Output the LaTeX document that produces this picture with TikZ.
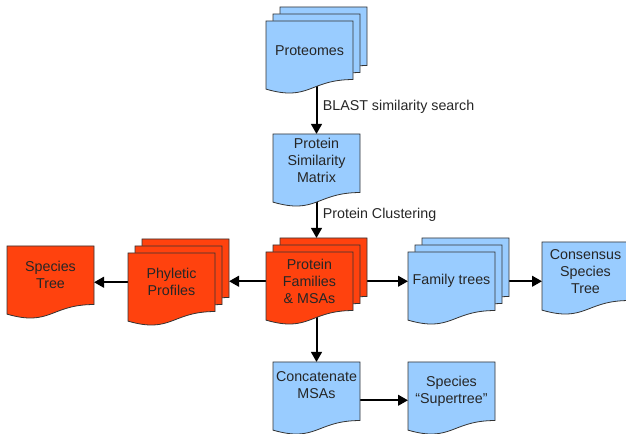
\documentclass[tikz,border=0pt]{standalone}
\usepackage{fontspec}
\setmainfont{Liberation Sans}
\usetikzlibrary{calc,arrows.meta}
\definecolor{docblue}{HTML}{99CCFF}
\definecolor{docred}{HTML}{FF420E}
\pgfdeclarelayer{arrows}
\pgfdeclarelayer{sheets}
\pgfsetlayers{arrows,sheets,main}
\tikzset{
  doc/.style={anchor=north west, minimum width=65.25pt, minimum height=43.9pt,
    inner sep=1pt, outer sep=0pt, align=center, font=\fontsize{10.7}{12.8}\selectfont, text=black!85},
  sheet/.style={draw=black!80, line width=0.6pt},
  arr/.style={line width=1.5pt, -{Triangle[length=7.5pt,width=8pt]}},
  lbl/.style={font=\fontsize{10.7}{12.8}\selectfont, text=black!85, right, inner sep=4pt}
}

\begin{document}
\begin{tikzpicture}[x=0.75pt,y=-0.75pt]
\useasboundingbox (0,0) rectangle (626,434);
\node[doc] (prot3) at (280,7) {};
\node[doc] (prot2) at (273,14) {};
\node[doc] (prot) at (266,21) {Proteomes};
\node[doc, text depth=4.5pt] (mat) at (273,134) {Protein\\Similarity\\Matrix};
\node[doc] (fam3) at (280,238) {};
\node[doc] (fam2) at (273,245) {};
\node[doc] (fam) at (266,252) {Protein\\Families\\\& MSAs};
\node[doc] (phy3) at (142,239) {};
\node[doc] (phy2) at (135,246) {};
\node[doc] (phy) at (128,253) {Phyletic\\Profiles};
\node[doc] (sp) at (7,246) {Species\\Tree};
\node[doc] (ft3) at (422,238) {};
\node[doc] (ft2) at (415,245) {};
\node[doc] (ft) at (408,252) {Family trees};
\node[doc] (cons) at (542,242) {Consensus\\Species\\Tree};
\node[doc, text depth=9pt] (cat) at (273,362) {Concatenate\\MSAs};
\node[doc] (sup) at (408,362) {Species\\``Supertree''};
\coordinate (catout) at ($(cat.east)+(0,9)$);

\begin{pgfonlayer}{sheets}
\foreach \d/\c in {prot3/docblue,prot2/docblue,prot/docblue,mat/docblue,
    fam3/docred,fam2/docred,fam/docred,phy3/docred,phy2/docred,phy/docred,sp/docred,
    ft3/docblue,ft2/docblue,ft/docblue,cons/docblue,cat/docblue,sup/docblue}
  \draw[sheet,fill=\c] (\d.north west) -- (\d.north east) -- (\d.south east)
    .. controls ($(\d.south east)+(-43.5,0)$) and ($(\d.south east)+(-43.5,22.3)$) .. ($(\d.south west)+(0,9.6)$) -- cycle;
\end{pgfonlayer}

\begin{pgfonlayer}{arrows}
\draw[arr] (mat.north |- prot.south) -- (mat.north) node[lbl,midway] {BLAST similarity search};
\draw[arr] (mat.south) -- (mat.south |- fam3.north) node[lbl,midway] {Protein Clustering};
\draw[arr] (fam.west) -- (fam.west -| phy3.east);
\draw[arr] (phy.west) -- (phy.west -| sp.east);
\draw[arr] (fam3.east |- ft.west) -- (ft.west);
\draw[arr] (ft3.east |- ft.east) -- (ft.east -| cons.west);
\draw[arr] (cat.north |- fam.south) -- (cat.north);
\draw[arr] (catout) -- (catout -| sup.west);
\end{pgfonlayer}
\end{tikzpicture}
\end{document}
